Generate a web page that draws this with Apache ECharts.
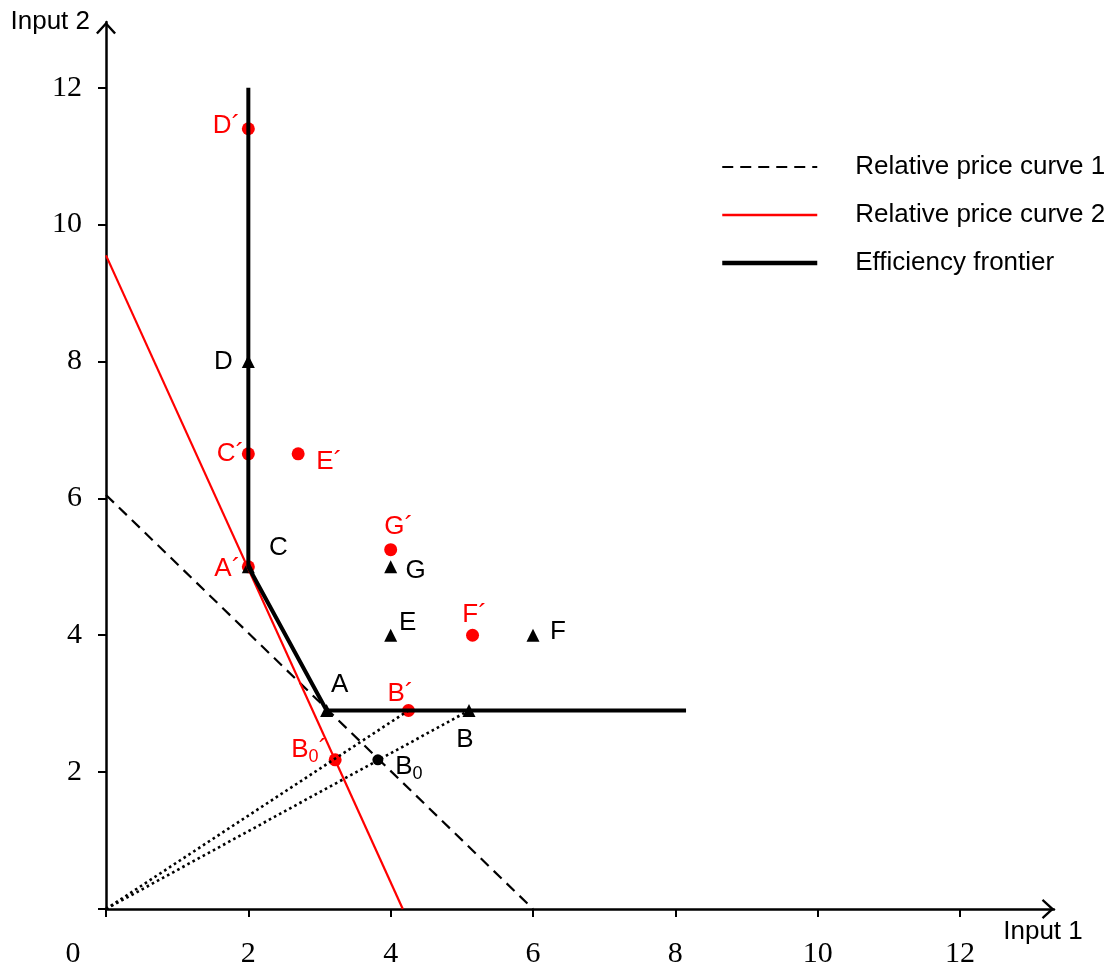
<!DOCTYPE html>
<html><head><meta charset="utf-8">
<script src="https://cdn.jsdelivr.net/npm/echarts@6/dist/echarts.min.js"></script>
<style>html,body{margin:0;padding:0;background:#fff}#c{width:1110px;height:966px}</style>
</head><body><div id="c"></div>
<script>
// ---------- data ----------
const xTickValues = [0, 2, 4, 6, 8, 10, 12];
const yTickValues = [0, 2, 4, 6, 8, 10, 12];
const yLabelValues = [2, 4, 6, 8, 10, 12];

const frontierX = [2, 2, 3.1, 8.15];
const frontierY = [12, 5, 2.9, 2.9];

const price1X = [0, 6];
const price1Y = [6.05, 0];

const price2X = [0, 4.17];
const price2Y = [9.55, 0];

const blackNames = ['D', 'C', 'A', 'B', 'E', 'F', 'G'];
const blackX = [2, 2, 3.1, 5.1, 4, 6, 4];
const blackY = [8, 5, 2.9, 2.9, 4, 4, 5];

const redNames = ['D´', 'C´', 'E´', 'A´', 'G´', 'F´', 'B´', 'B0´'];
const redX = [2, 2, 2.7, 2, 4, 5.15, 4.25, 3.22];
const redY = [11.4, 6.65, 6.65, 5, 5.25, 4, 2.9, 2.18];

const b0Names = ['B0'];
const b0X = [3.82];
const b0Y = [2.18];

const rayTargets = ['B´', 'B'];   // dotted rays from the origin

const legendNames = ['Relative price curve 1', 'Relative price curve 2', 'Efficiency frontier'];

// ---------- label placement (style) ----------
const labelOffset = {
  'D': [-25, 0], 'C': [30, -19], 'A': [13, -26], 'B': [-4, 29],
  'E': [17, -12], 'F': [25, -3], 'G': [25, 4],
  'D´': [-22, -3], 'C´': [-18, 0], 'E´': [31, 8], 'A´': [-21, 2],
  'G´': [8, -23], 'F´': [2, -20], 'B´': [-8, -17], 'B0´': [-26, -10],
  'B0': [31, 7]
};

const SANS = 'Liberation Sans';
const SERIF = 'Liberation Serif';
const RED = '#ff0000';
const FS = 26;

function zip(xs, ys) { return xs.map((x, i) => [x, ys[i]]); }
function fmtName(n) {
  if (n === 'B0') return '{n|B}{s|0}';
  if (n === 'B0´') return '{n|B}{s|0}{n|´}';
  return '{n|' + n + '}';
}
function pointData(names, xs, ys, color) {
  return names.map((n, i) => ({
    name: n, value: [xs[i], ys[i]],
    label: {
      show: true, position: 'inside', offset: labelOffset[n] || [0, 0],
      formatter: fmtName(n),
      rich: {
        n: { fontFamily: SANS, fontSize: FS, color: color },
        s: { fontFamily: SANS, fontSize: 18, color: color, padding: [14, 0, 0, 0] }
      }
    }
  }));
}
function findPoint(name) {
  let i = redNames.indexOf(name);
  if (i >= 0) return [redX[i], redY[i]];
  i = blackNames.indexOf(name);
  return [blackX[i], blackY[i]];
}

const arrowPath = 'path://M0,11 L10,0 L20,11 L18.2,12.5 L10,3.6 L1.8,12.5 Z';

const axisCommon = {
  type: 'value', interval: 2,
  splitLine: { show: false },
  axisLine: { show: true, onZero: false, lineStyle: { color: '#000', width: 2.5 },
    symbol: ['none', arrowPath], symbolSize: [20, 12.5], symbolOffset: [0, -6] },
};

const series = [
  { name: legendNames[0], type: 'line', symbol: 'none', data: zip(price1X, price1Y),
    lineStyle: { color: '#000', width: 2.2, type: [11, 7] }, itemStyle: { color: '#000' } },
  { name: legendNames[1], type: 'line', symbol: 'none', data: zip(price2X, price2Y),
    lineStyle: { color: RED, width: 2.2 }, itemStyle: { color: RED } },
  { name: legendNames[2], type: 'line', symbol: 'none', data: zip(frontierX, frontierY),
    lineStyle: { color: '#000', width: 4 }, itemStyle: { color: '#000' } }
];
rayTargets.forEach(t => {
  series.push({ name: 'ray ' + t, type: 'line', symbol: 'none', data: [[0, 0], findPoint(t)],
    lineStyle: { color: '#000', width: 2.6, type: [2.6, 3.2] } });
});
series.push({ name: 'red points', type: 'scatter', symbol: 'circle', symbolSize: 13,
  itemStyle: { color: RED, opacity: 1 }, data: pointData(redNames, redX, redY, RED) });
series.push({ name: 'B0 point', type: 'scatter', symbol: 'circle', symbolSize: 11,
  itemStyle: { color: '#000', opacity: 1 }, data: pointData(b0Names, b0X, b0Y, '#000') });
series.push({ name: 'black points', type: 'scatter', symbol: 'triangle', symbolSize: 13,
  itemStyle: { color: '#000', opacity: 1 }, data: pointData(blackNames, blackX, blackY, '#000') });

const legendWidths = [2.2, 2.5, 4.5];

const option = {
  animation: false,
  backgroundColor: '#fff',
  grid: { left: 106, right: 56, top: 22, bottom: 57, containLabel: false, outerBoundsMode: 'none' },
  legend: {
    show: true, orient: 'vertical', left: 720, top: 143, padding: 0, itemGap: 0,
    itemWidth: 95, itemHeight: 14, selectedMode: false,
    data: legendNames.map((n, i) => ({ name: n, lineStyle: { width: legendWidths[i] } })),
    itemStyle: { opacity: 0 },
    textStyle: { fontFamily: SANS, fontSize: FS, color: '#000', lineHeight: 28, padding: [0, 0, 20, 33] }
  },
  xAxis: Object.assign({}, axisCommon, {
    min: 0, max: 13.32,
    name: 'Input 1', nameLocation: 'end', nameGap: 0,
    nameTextStyle: { fontFamily: SANS, fontSize: FS, color: '#000', align: 'center', verticalAlign: 'top', padding: [10, 22, 0, 0] },
    axisTick: { show: true, inside: false, length: 8, lineStyle: { color: '#000', width: 2 }, customValues: xTickValues },
    axisLabel: { show: true, customValues: xTickValues, margin: 30, fontFamily: SERIF, fontSize: 30, color: '#000',
      formatter: v => (v === 0 ? '{z|0}' : String(v)),
      rich: { z: { fontFamily: SERIF, fontSize: 30, color: '#000', padding: [0, 66, 0, 0] } } }
  }),
  yAxis: Object.assign({}, axisCommon, {
    min: 0, max: 12.96,
    name: 'Input 2', nameLocation: 'end', nameGap: 0,
    nameTextStyle: { fontFamily: SANS, fontSize: FS, color: '#000', align: 'right', verticalAlign: 'middle', padding: [0, 16, 0, 0] },
    axisTick: { show: true, inside: false, length: 8, lineStyle: { color: '#000', width: 2 }, customValues: yTickValues },
    axisLabel: { show: true, customValues: yLabelValues, margin: 24, fontFamily: SERIF, fontSize: 30, color: '#000', padding: [6, 0, 0, 0] }
  }),
  series: series
};

const chart = echarts.init(document.getElementById('c'), null, { renderer: 'canvas' });
chart.setOption(option);
</script>
</body></html>
